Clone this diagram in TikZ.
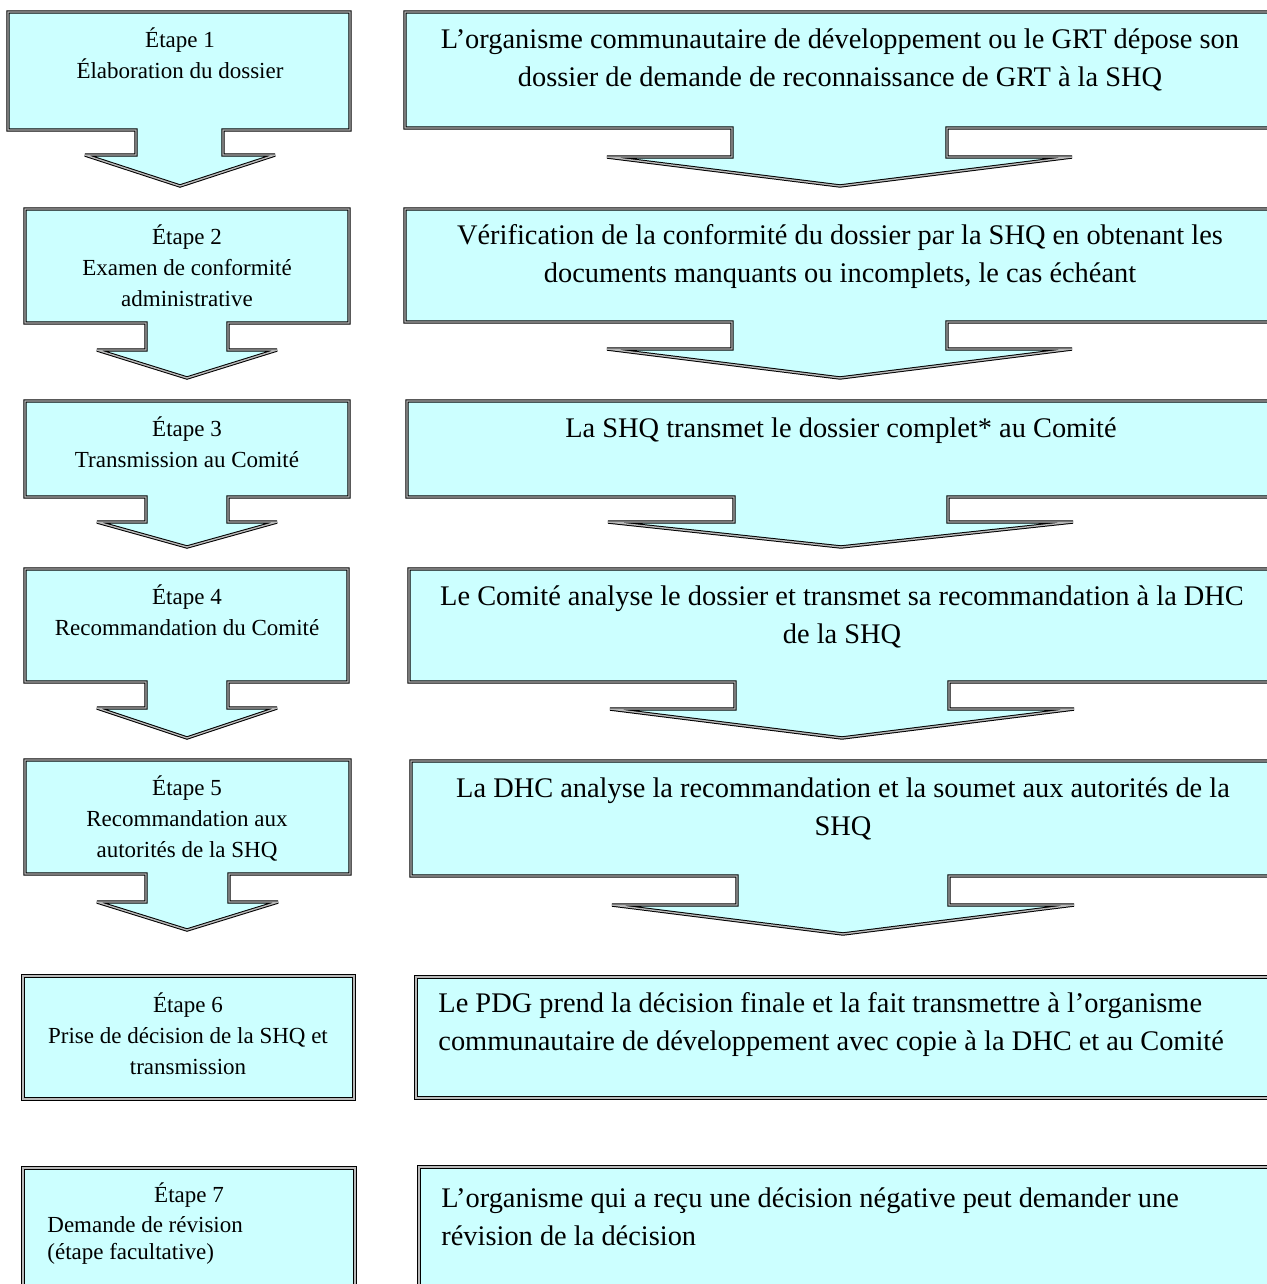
\documentclass[tikz,border=0pt]{standalone}
\usepackage{fontspec}
\setmainfont{Liberation Serif}
\usepackage{tikz}
\definecolor{boxcyan}{HTML}{CCFFFF}

\begin{document}
\begin{tikzpicture}[x=0.5pt,y=-0.5pt,
  callout/.style={fill=boxcyan,draw=black,double=gray!55,double distance=0.7pt,line width=0.5pt,miter limit=3},
  steptext/.style={inner sep=0pt,align=center,font=\fontsize{11.5}{15.5}\selectfont},
  desctext/.style={inner sep=0pt,align=center,font=\fontsize{14.2}{19}\selectfont}]
\fill[white] (0,0) rectangle (1267,1284);
\useasboundingbox (0,0) rectangle (1267,1284);

% left column
\draw[callout] (8,12) -- (350,12) -- (350,130) -- (223,130) -- (223,155) -- (275,155) -- (180,186) -- (85,155) -- (136,155) -- (136,130) -- (8,130) -- cycle;
\draw[callout] (25,209) -- (349,209) -- (349,323) -- (228,323) -- (228,350) -- (277,350) -- (187,378) -- (97,350) -- (146,350) -- (146,323) -- (25,323) -- cycle;
\draw[callout] (25,401) -- (349,401) -- (349,497) -- (228,497) -- (228,522) -- (277,522) -- (187,547) -- (97,522) -- (146,522) -- (146,497) -- (25,497) -- cycle;
\draw[callout] (25,569) -- (348,569) -- (348,682) -- (228,682) -- (228,708) -- (277,708) -- (187,738) -- (97,708) -- (146,708) -- (146,682) -- (25,682) -- cycle;
\draw[callout] (25,760) -- (350,760) -- (350,874) -- (229,874) -- (229,902) -- (278,902) -- (187,930) -- (97,902) -- (146,902) -- (146,874) -- (25,874) -- cycle;
\draw[callout] (23,976) rectangle (354,1099);
\draw[callout] (23,1168) rectangle (355,1300);

% right column
\draw[callout] (405,12) -- (1280,12) -- (1280,128) -- (947,128) -- (947,157) -- (1072,157) -- (840,186) -- (607,157) -- (732,157) -- (732,128) -- (405,128) -- cycle;
\draw[callout] (405,209) -- (1280,209) -- (1280,322) -- (947,322) -- (947,349) -- (1072,349) -- (840,378) -- (607,349) -- (732,349) -- (732,322) -- (405,322) -- cycle;
\draw[callout] (407,401) -- (1280,401) -- (1280,497) -- (948,497) -- (948,522) -- (1073,522) -- (841,547) -- (608,522) -- (734,522) -- (734,497) -- (407,497) -- cycle;
\draw[callout] (409,569) -- (1280,569) -- (1280,682) -- (949,682) -- (949,709) -- (1074,709) -- (842,738) -- (610,709) -- (735,709) -- (735,682) -- (409,682) -- cycle;
\draw[callout] (411,761) -- (1280,761) -- (1280,876) -- (949,876) -- (949,905) -- (1074,905) -- (843,934) -- (612,905) -- (737,905) -- (737,876) -- (411,876) -- cycle;
\draw[callout] (416,977) rectangle (1280,1098);
\draw[callout] (419,1167) rectangle (1280,1300);

% step labels
\node[steptext] (step1) at (180,53.5) {Étape 1\\Élaboration du dossier};
\node[steptext] (step2) at (187,266) {Étape 2\\Examen de conformité\\administrative};
\node[steptext] (step3) at (187,442.5) {Étape 3\\Transmission au Comité};
\node[steptext] (step4) at (187,610.5) {Étape 4\\Recommandation du Comité};
\node[steptext] (step5) at (187,818) {Étape 5\\Recommandation aux\\autorités de la SHQ};
\node[steptext] (step6) at (188,1034) {Étape 6\\Prise de décision de la SHQ et\\transmission};
\node[steptext] (step7) at (189,1195) {Étape 7};
\node[steptext,align=left,anchor=west,font=\fontsize{11.5}{13.5}\selectfont] (step7b) at (47,1240) {Demande de révision\\(étape facultative)};

% descriptions
\node[desctext] (desc1) at (840,60) {L’organisme communautaire de développement ou le GRT dépose son\\dossier de demande de reconnaissance de GRT à la SHQ};
\node[desctext] (desc2) at (840,257) {Vérification de la conformité du dossier par la SHQ en obtenant les\\documents manquants ou incomplets, le cas échéant};
\node[desctext] (desc3) at (841,431) {La SHQ transmet le dossier complet* au Comité};
\node[desctext] (desc4) at (842,617) {Le Comité analyse le dossier et transmet sa recommandation à la DHC\\de la SHQ};
\node[desctext] (desc5) at (843,809) {La DHC analyse la recommandation et la soumet aux autorités de la\\SHQ};
\node[desctext,align=left,anchor=west] (desc6) at (438,1025) {Le PDG prend la décision finale et la fait transmettre à l’organisme\\communautaire de développement avec copie à la DHC et au Comité};
\node[desctext,align=left,anchor=west] (desc7) at (441,1217) {L’organisme qui a reçu une décision négative peut demander une\\révision de la décision};
\end{tikzpicture}
\end{document}
